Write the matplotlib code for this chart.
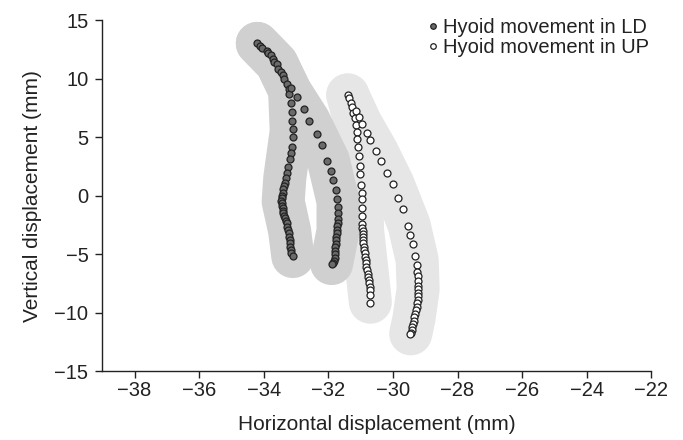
import numpy as np
import matplotlib
matplotlib.use("Agg")
import matplotlib.pyplot as plt

plt.rcParams['font.family'] = ['Liberation Sans', 'DejaVu Sans']

# hyoid positions (mm)
ld_x = [-34.20, -34.12, -34.04, -33.91, -33.86, -33.79, -33.73, -33.68, -33.60, -33.55,
        -33.48, -33.42, -33.37, -33.29, -33.21, -33.21, -33.17, -33.14, -33.14, -33.11,
        -33.11, -33.14, -33.17, -33.19, -33.24, -33.27, -33.31, -33.34, -33.37, -33.40,
        -33.42, -33.44, -33.45, -33.46, -33.45, -33.44, -33.42, -33.41, -33.40, -33.37,
        -33.34, -33.31, -33.29, -33.27, -33.24, -33.22, -33.21, -33.20, -33.19, -33.18,
        -33.17, -33.15, -33.11,
        -33.17, -32.98, -32.76, -32.59, -32.36, -32.21, -32.03, -31.93, -31.85, -31.77,
        -31.72, -31.69, -31.69, -31.69, -31.70, -31.72, -31.73, -31.74, -31.75, -31.76,
        -31.77, -31.78, -31.79, -31.80, -31.81, -31.84, -31.87, -31.90]
ld_y = [13.02, 12.79, 12.59, 12.39, 12.17, 12.02, 11.65, 11.45, 11.25, 10.80,
        10.60, 10.31, 9.94, 9.54, 9.09, 8.69, 7.95, 7.18, 6.41, 5.67,
        5.04, 4.13, 3.62, 3.11, 2.42, 1.97, 1.48, 1.05, 0.80, 0.54,
        0.20, 0.00, -0.23, -0.42, -0.60, -0.85, -1.08, -1.30, -1.51, -1.72,
        -1.94, -2.15, -2.36, -2.65, -2.93, -3.20, -3.50, -3.78, -4.07, -4.35,
        -4.64, -4.90, -5.16,
        9.17, 8.41, 7.38, 6.41, 5.27, 4.33, 3.00, 2.14, 1.34, 0.49,
        -0.31, -0.94, -1.50, -2.02, -2.30, -2.60, -2.93, -3.20, -3.50, -3.80,
        -4.10, -4.40, -4.70, -5.00, -5.30, -5.55, -5.75, -5.84]

up_x = [-31.38, -31.35, -31.31, -31.28, -31.23, -31.18, -31.15, -31.10, -31.10, -31.07,
        -31.04, -31.02, -31.02, -31.00, -30.97, -30.97, -30.97, -30.97, -30.97, -30.96,
        -30.94, -30.94, -30.94, -30.93, -30.92, -30.91, -30.90, -30.88, -30.87, -30.85,
        -30.84, -30.82, -30.79, -30.77, -30.76, -30.74, -30.73, -30.72, -30.71, -30.71,
        -30.71,
        -31.15, -31.04, -30.97, -30.81, -30.71, -30.53, -30.37, -30.18, -30.01, -29.83,
        -29.70, -29.53, -29.47, -29.39, -29.32, -29.27, -29.25, -29.23, -29.22, -29.22,
        -29.22, -29.22, -29.22, -29.23, -29.25, -29.27, -29.29, -29.31, -29.34, -29.36,
        -29.38, -29.40, -29.42, -29.44, -29.46]
up_y = [8.61, 8.32, 7.95, 7.55, 7.10, 6.61, 6.04, 5.47, 4.82, 4.13,
        3.39, 2.54, 1.86, 0.92, 0.26, -0.31, -1.08, -1.73, -2.42, -2.75,
        -2.99, -3.25, -3.50, -3.80, -4.07, -4.35, -4.64, -4.92, -5.21, -5.50,
        -5.78, -6.05, -6.35, -6.65, -6.92, -7.20, -7.49, -7.78, -8.06, -8.50,
        -9.14,
        7.27, 6.76, 6.13, 5.39, 4.76, 3.85, 3.00, 1.91, 1.00, -0.22,
        -1.11, -2.59, -3.36, -4.13, -5.15, -5.92, -6.49, -6.90, -7.30, -7.70,
        -8.00, -8.30, -8.60, -8.90, -9.20, -9.50, -9.80, -10.10, -10.40, -10.70,
        -11.00, -11.25, -11.50, -11.70, -11.82]

# shaded bands behind each trace (centre lines)
ld_band_left_x = [-34.2, -33.6, -33.2, -33.15, -33.35, -33.4, -33.2, -33.1]
ld_band_left_y = [13.0, 11.3, 9.0, 5.5, 1.5, -0.5, -3.0, -5.2]
ld_band_right_x = [-34.2, -33.6, -33.2, -32.6, -32.0, -31.7, -31.7, -31.9]
ld_band_right_y = [13.0, 11.3, 9.0, 6.4, 3.0, -0.5, -3.0, -5.8]
up_band_left_x = [-31.4, -31.15, -31.05, -30.97, -30.94, -30.8, -30.7]
up_band_left_y = [8.6, 6.0, 3.4, 0.0, -3.0, -6.5, -9.1]
up_band_right_x = [-31.4, -31.0, -30.5, -30.0, -29.5, -29.25, -29.22, -29.35, -29.45]
up_band_right_y = [8.6, 6.2, 3.8, 1.0, -2.5, -5.5, -8.0, -10.5, -11.8]

x_ticks = np.arange(-38, -21, 2)
y_ticks = np.arange(-15, 16, 5)

fig = plt.figure(figsize=(6.83, 4.40), dpi=100)
ax = fig.add_axes([0.1498, 0.1561, 0.8038, 0.7984])

band_kw = dict(solid_capstyle='round', solid_joinstyle='round', zorder=1)
ax.plot(up_band_left_x, up_band_left_y, color='#e6e6e6', lw=31, **band_kw)
ax.plot(up_band_right_x, up_band_right_y, color='#e6e6e6', lw=31, **band_kw)
ax.plot(ld_band_left_x, ld_band_left_y, color='#d0d0d0', lw=31, **band_kw)
ax.plot(ld_band_right_x, ld_band_right_y, color='#d0d0d0', lw=31, **band_kw)

ax.plot(ld_x, ld_y, 'o', ms=5, mfc='#6a6a6a', mec='#222222', mew=0.9, zorder=3,
        label='Hyoid movement in LD')
ax.plot(up_x, up_y, 'o', ms=5, mfc='white', mec='#222222', mew=0.9, zorder=3,
        label='Hyoid movement in UP')

ax.set_xlim(-39, -22)
ax.set_ylim(-15, 15)
ax.set_xticks(x_ticks)
ax.set_yticks(y_ticks)
ax.set_xticklabels([f'\u2212{abs(v)}' for v in x_ticks])
ax.set_yticklabels([f'\u2212{abs(v)}' if v < 0 else str(v) for v in y_ticks])
ax.spines['top'].set_visible(False)
ax.spines['right'].set_visible(False)
for s in ('left', 'bottom'):
    ax.spines[s].set_color('#222222')
    ax.spines[s].set_linewidth(1.0)
ax.tick_params(direction='out', length=5, width=1.0, color='#222222',
               labelsize=14.5, labelcolor='#222222')
ax.tick_params(axis='x', pad=2)
ax.tick_params(axis='y', pad=5)

ax.set_xlabel('Horizontal displacement (mm)', fontsize=15, color='#222222', labelpad=11)
ax.set_ylabel('Vertical displacement (mm)', fontsize=15, color='#222222', labelpad=9)

ax.legend(loc='upper right', bbox_to_anchor=(0.996, 1.006), borderaxespad=0, borderpad=0,
          frameon=False, fontsize=14.5, handletextpad=0.1, handlelength=0.8,
          labelspacing=0.05, markerscale=0.8, labelcolor='#222222')

fig.savefig('out.png', dpi=100)
